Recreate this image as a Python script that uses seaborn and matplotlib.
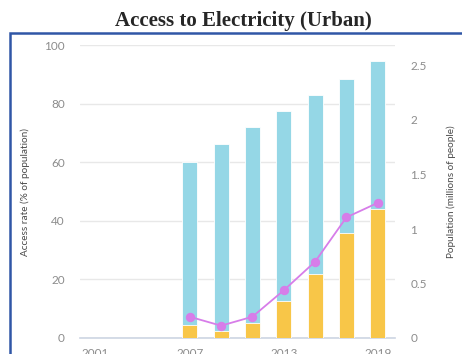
import numpy as np
import pandas as pd
import matplotlib
matplotlib.use("Agg")
import matplotlib.pyplot as plt
import seaborn as sns
from matplotlib.patches import Rectangle

# values
years = [2007, 2009, 2011, 2013, 2015, 2017, 2019]
access_rate = [60.0, 66.2, 71.9, 77.6, 82.9, 88.5, 94.6]
access_yellow = [4.3, 2.3, 5.1, 12.7, 21.7, 35.9, 44.1]
population = [0.195, 0.113, 0.195, 0.437, 0.70, 1.107, 1.24]

x_ticks = [2001, 2007, 2013, 2019]
left_ticks = [0, 20, 40, 60, 80, 100]
right_ticks = [0, 0.5, 1, 1.5, 2, 2.5]
right_labels = ["0", "0.5", "1", "1.5", "2", "2.5"]

blue = "#95d7e6"
yellow = "#f8c648"
violet = "#d77de9"
tick_grey = "#8c8c8c"
label_grey = "#4a4a4a"

sns.set_style("white")
plt.rcParams["font.family"] = ["Lato", "DejaVu Sans"]

df = pd.DataFrame({"year": years, "access": access_rate,
                   "yellow": access_yellow, "pop": population})

fig = plt.figure(figsize=(4.62, 3.54), dpi=100)
ax = fig.add_axes([80 / 462, 1 - 338 / 354, 315 / 462, 293 / 354])

sns.barplot(data=df, x="year", y="access", native_scale=True, width=0.48,
            color=blue, saturation=1, edgecolor="white", linewidth=0.6, ax=ax, zorder=2)
sns.barplot(data=df, x="year", y="yellow", native_scale=True, width=0.48,
            color=yellow, saturation=1, edgecolor="white", linewidth=0.6, ax=ax, zorder=3)

ax.set_xlim(2000.0, 2020.1)
ax.set_ylim(0, 100)
ax.set_yticks(left_ticks)
ax.set_xticks(x_ticks)
ax.set_xticklabels([str(t) for t in x_ticks])
ax.grid(axis="y", color="#e8e8e8", linewidth=1, zorder=0)
ax.set_axisbelow(True)
for side in ["top", "right", "left"]:
    ax.spines[side].set_visible(False)
ax.spines["bottom"].set_color("#cdd5e3")
ax.spines["bottom"].set_linewidth(1.2)
ax.tick_params(axis="y", length=0, pad=11, labelsize=8.5, labelcolor=tick_grey)
ax.tick_params(axis="x", length=4, width=1, color="#cdd5e3", pad=3,
               labelsize=8.5, labelcolor=tick_grey)
ax.set_xlabel("")
ax.set_ylabel("Access rate (% of population)", fontsize=7.2, color=label_grey, labelpad=10)

ax2 = ax.twinx()
sns.lineplot(data=df, x="year", y="pop", color=violet, marker="o", markersize=6,
             markeredgecolor=violet, linewidth=1.3, ax=ax2, zorder=4)
ax2.set_ylim(0, 293 / 109)
ax2.set_yticks(right_ticks)
ax2.set_yticklabels(right_labels)
for side in ["top", "right", "left", "bottom"]:
    ax2.spines[side].set_visible(False)
ax2.tick_params(axis="y", length=0, pad=11, labelsize=8.5, labelcolor=tick_grey)
ax2.set_ylabel("Population (millions of people)", fontsize=7.2, color=label_grey, labelpad=14)
ax2.set_xlabel("")

fig.text(243 / 462, 1 - 21 / 354, "Access to Electricity (Urban)", ha="center", va="center",
         fontsize=15, fontweight="bold", family=["Liberation Serif", "DejaVu Serif"])

fig.patches.append(Rectangle((10 / 462, -0.2), 1.2, 0.2 + 1 - 33 / 354,
                             transform=fig.transFigure, fill=False,
                             edgecolor="#3056a6", linewidth=1.8))

fig.savefig("out.png", dpi=100)
